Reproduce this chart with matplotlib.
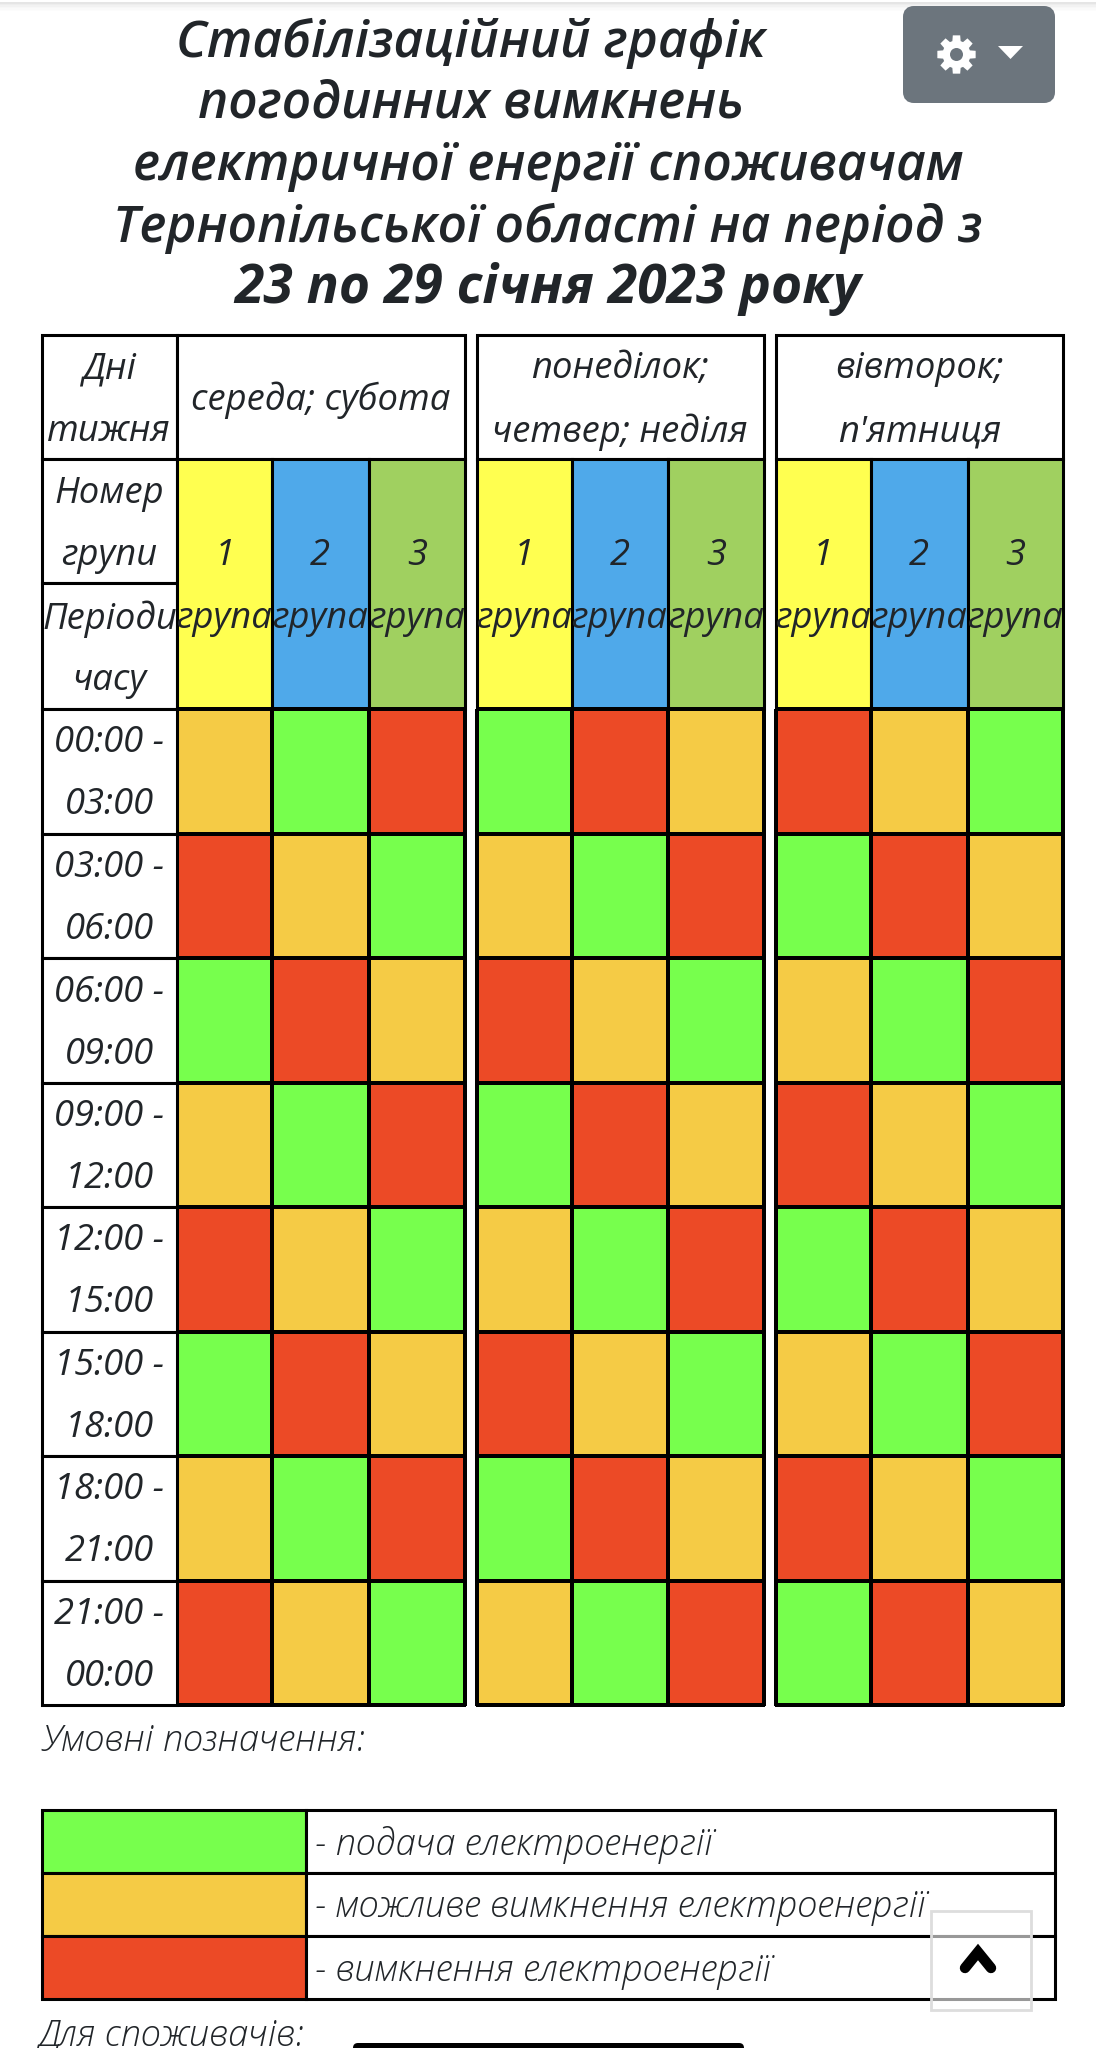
import matplotlib
matplotlib.use("Agg")
import matplotlib.pyplot as plt
from matplotlib.colors import ListedColormap
from matplotlib.patches import FancyBboxPatch, Rectangle, Polygon, Circle
import numpy as np

FONT = ["Open Sans", "DejaVu Sans"]
TXT = "#212529"

title_lines = ["Стабілізаційний графік", "погодинних вимкнень",
               "електричної енергії споживачам", "Тернопільської області на період з"]
title_bold = "23 по 29 січня 2023 року"
day_labels = [["середа; субота"], ["понеділок;", "четвер; неділя"], ["вівторок;", "п'ятниця"]]
periods = ["00:00 -\n03:00", "03:00 -\n06:00", "06:00 -\n09:00", "09:00 -\n12:00",
           "12:00 -\n15:00", "15:00 -\n18:00", "18:00 -\n21:00", "21:00 -\n00:00"]
group_numbers = ["1", "2", "3"]
legend_labels = ["- подача електроенергії", "- можливе вимкнення електроенергії",
                 "- вимкнення електроенергії"]
# 0 supply, 1 possible outage, 2 outage
schedule_wed_sat = [[1,0,2],[2,1,0],[0,2,1],[1,0,2],[2,1,0],[0,2,1],[1,0,2],[2,1,0]]
schedule_mon_thu_sun = [[0,2,1],[1,0,2],[2,1,0],[0,2,1],[1,0,2],[2,1,0],[0,2,1],[1,0,2]]
schedule_tue_fri = [[2,1,0],[0,2,1],[1,0,2],[2,1,0],[0,2,1],[1,0,2],[2,1,0],[0,2,1]]
schedules = [schedule_wed_sat, schedule_mon_thu_sun, schedule_tue_fri]

state_colors = ["#77FF4D", "#F5CB45", "#EC4A26"]
group_colors = ["#FFFF50", "#4FA9EA", "#A0D060"]

block_edges = [[176.5, 272, 368.5, 465], [476.5, 571.5, 667.5, 764], [775.5, 870.5, 967.5, 1063]]
row_edges = [709, 833.5, 958, 1083, 1207, 1331.5, 1456, 1580.5, 1705]
L, LBL, TOP, HDR, MID1, MID2 = 42, 176.5, 335, 459, 583, 709
LW = 2.2
MESH_LW = 1.7
FS = 26.2
DY = 3

fig = plt.figure(figsize=(10.96, 20.48), dpi=100, facecolor="white")
ax = fig.add_axes([0, 0, 1, 1])
ax.set_xlim(0, 1096); ax.set_ylim(2048, 0); ax.axis("off")

def T(x, y, s, size=FS, weight="normal", ha="center", color=TXT, z=5):
    ax.text(x, y + DY, s, fontsize=size, fontweight=weight, style="italic", family=FONT,
            ha=ha, va="center", color=color, zorder=z)

# top shadow
for i, a in enumerate([.10, .07, .05, .03, .02, .01]):
    ax.add_patch(Rectangle((0, i*1.5+2), 1096, 1.5, fc="k", alpha=a, ec="none"))

# title
for i, s in enumerate(title_lines):
    T([471, 471, 548, 548][i], 40.5 + i*61.5, s, size=37, weight="semibold")
T(548, 286.5, title_bold, size=38.4, weight="bold")

# settings button
ax.add_patch(FancyBboxPatch((908, 11), 142, 87, boxstyle="round,pad=0,rounding_size=6",
                            fc="#6C757D", ec="#6C757D", lw=10*0.72, zorder=6))
gear_ang = np.linspace(0, 2*np.pi, 8, endpoint=False)
gear_pts = []
for a in gear_ang:
    for da, r in [(-0.30, 14), (-0.19, 19.5), (0.19, 19.5), (0.30, 14)]:
        gear_pts.append([956.5 + r*np.cos(a+da), 54.5 + r*np.sin(a+da)])
ax.add_patch(Polygon(gear_pts, fc="white", ec="none", zorder=7))
ax.add_patch(Circle((956.5, 54.5), 6.5, fc="#6C757D", ec="none", zorder=8))
ax.add_patch(Polygon([[998, 46], [1023, 46], [1010.5, 59]], fc="white", ec="none", zorder=7))

# table header
def box(x0, y0, x1, y1, fc="white"):
    ax.add_patch(Rectangle((x0, y0), x1-x0, y1-y0, fc=fc, ec="black", lw=LW, zorder=3))

box(L, TOP, LBL, HDR); box(L, HDR, LBL, MID1); box(L, MID1, LBL, MID2)
T((L+LBL)/2, 366, "Дні"); T((L+LBL)/2, 429, "тижня")
T((L+LBL)/2, 491, "Номер"); T((L+LBL)/2, 553, "групи")
T((L+LBL)/2+1, 616, "Періоди"); T((L+LBL)/2, 678, "часу")

cmap = ListedColormap(state_colors)
for b, (edges, sch, days) in enumerate(zip(block_edges, schedules, day_labels)):
    box(edges[0], TOP, edges[-1], HDR)
    cx = (edges[0] + edges[-1]) / 2
    if len(days) == 1:
        T(cx, 397, days[0])
    else:
        T(cx, 366, days[0]); T(cx, 429, days[1])
    for g in range(3):
        box(edges[g], HDR, edges[g+1], MID2, fc=group_colors[g])
        c = (edges[g] + edges[g+1]) / 2
        T(c, 553, group_numbers[g]); T(c, 616, "група")
    ax.pcolormesh(edges, row_edges, np.array(sch), cmap=cmap, vmin=0, vmax=2,
                  edgecolors="black", linewidth=MESH_LW, zorder=3)

for i, p in enumerate(periods):
    box(L, row_edges[i], LBL, row_edges[i+1])
    a, bb = p.split("\n")
    c = (row_edges[i] + row_edges[i+1]) / 2
    T((L+LBL)/2, c-31, a); T((L+LBL)/2, c+31, bb)

# legend
T(41, 1738, "Умовні позначення:", ha="left", weight="light")
leg_y = [1810, 1873, 1936, 1999]
for i, s in enumerate(legend_labels):
    box(L, leg_y[i], 306, leg_y[i+1], fc=state_colors[i])
    box(306, leg_y[i], 1054.5, leg_y[i+1])
    T(315, (leg_y[i]+leg_y[i+1])/2+1, s, ha="left", weight="light")
T(39, 2032, "Для споживачів:", ha="left", weight="light")

# back-to-top button
ax.add_patch(Rectangle((931, 1911), 100, 99, fc=(1, 1, 1, .6), ec="#DDDDDD", lw=2, zorder=8))
ax.plot([965, 978, 991], [1968, 1952, 1968], color="black", lw=7.5, zorder=9,
        solid_capstyle="round", solid_joinstyle="miter")

# home indicator
ax.add_patch(FancyBboxPatch((353, 2043), 391, 12, boxstyle="round,pad=0,rounding_size=5",
                            fc="black", ec="none", zorder=9))
fig.savefig("out.png", dpi=100)
